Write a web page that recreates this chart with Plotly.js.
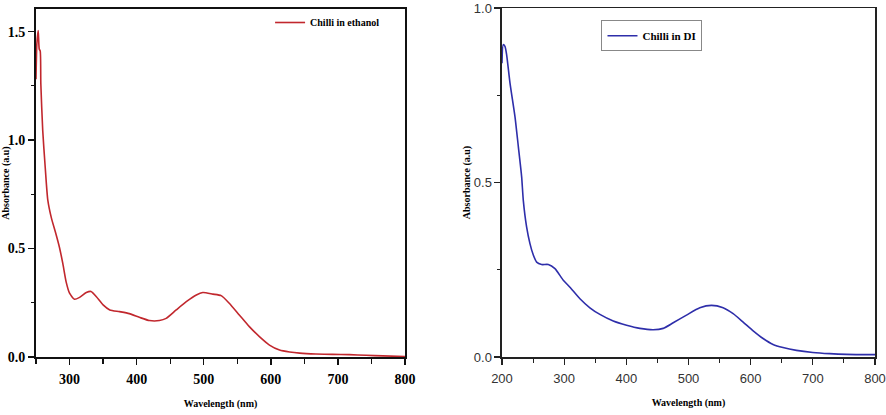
<!DOCTYPE html>
<html>
<head>
<meta charset="utf-8">
<script src="https://cdn.plot.ly/plotly-3.0.1.min.js"></script>
<style>html,body{margin:0;padding:0;background:#fff;}#chart{width:886px;height:415px;}</style>
</head>
<body>
<div id="chart"></div>
<script>
// Chilli in ethanol
const wlEthanol = [250, 251.3, 253.3, 254.8, 256.3, 257.2, 260, 263.7, 267.6, 273, 279, 285, 290, 295, 300, 307.4, 315, 325, 332, 340, 350, 360, 374.5, 389, 404, 419, 434, 444, 459, 474, 489, 498.6, 513.5, 526, 538, 553, 568, 583, 598, 613, 628, 643, 667, 692, 717, 742, 767, 800];
const absEthanol = [1.28, 1.444, 1.505, 1.42, 1.41, 1.26, 1.045, 0.876, 0.723, 0.64, 0.575, 0.505, 0.43, 0.345, 0.294, 0.266, 0.275, 0.297, 0.302, 0.278, 0.24, 0.217, 0.209, 0.2, 0.183, 0.168, 0.168, 0.178, 0.217, 0.255, 0.286, 0.297, 0.29, 0.283, 0.248, 0.194, 0.14, 0.094, 0.055, 0.032, 0.023, 0.018, 0.014, 0.012, 0.011, 0.008, 0.005, 0.002];
// Chilli in DI
const wlDI = [200, 202, 204.8, 207.5, 212.9, 220.9, 226.3, 231.6, 234.3, 239.6, 245, 250.4, 255.7, 263.7, 274.5, 285.2, 298.6, 309.3, 325.4, 341.4, 357.5, 379, 400.4, 421.8, 443.2, 459.3, 475.4, 496.8, 518.2, 537, 555.7, 571.8, 587.9, 604, 620, 636, 652, 673.6, 700, 727, 754, 800];
const absDI = [0.842, 0.895, 0.89, 0.866, 0.785, 0.689, 0.603, 0.517, 0.449, 0.373, 0.325, 0.292, 0.272, 0.265, 0.265, 0.253, 0.22, 0.2, 0.167, 0.141, 0.122, 0.103, 0.091, 0.082, 0.078, 0.082, 0.098, 0.12, 0.141, 0.148, 0.141, 0.124, 0.1, 0.075, 0.053, 0.036, 0.027, 0.019, 0.013, 0.0096, 0.0076, 0.0067];

const seriesNames = ['Chilli in ethanol', 'Chilli in DI'];
const xTitle = 'Wavelength (nm)';
const yTitle = 'Absorbance (a.u)';

const serifBold = {family: 'Liberation Serif', weight: 'bold', color: '#000'};
const titleFont = Object.assign({}, serifBold, {size: 10});

const traces = [
  {x: wlEthanol, y: absEthanol, type: 'scatter', mode: 'lines', name: seriesNames[0],
   line: {color: '#c1272d', width: 1.6, shape: 'spline', smoothing: 0.6}, xaxis: 'x', yaxis: 'y', legend: 'legend'},
  {x: wlDI, y: absDI, type: 'scatter', mode: 'lines', name: seriesNames[1],
   line: {color: '#2e2eaa', width: 1.6, shape: 'spline', smoothing: 0.6}, xaxis: 'x2', yaxis: 'y2', legend: 'legend2'}
];

const layout = {
  width: 886, height: 415,
  margin: {l: 36, r: 11, t: 8, b: 58},
  paper_bgcolor: '#fff', plot_bgcolor: '#fff',
  showlegend: true,
  xaxis: {
    domain: [0, 0.4398], range: [250, 800], dtick: 100, tick0: 0,
    showgrid: false, zeroline: false, showline: true, mirror: true, linecolor: '#111', linewidth: 2,
    ticks: 'outside', ticklen: 6, tickwidth: 1.5, tickcolor: '#111',
    minor: {dtick: 50, tick0: 0, ticks: 'outside', ticklen: 5, tickwidth: 1.2, tickcolor: '#111', showgrid: false},
    tickfont: Object.assign({}, serifBold, {size: 14}), ticklabelstandoff: 2,
    title: {text: xTitle, font: titleFont, standoff: 14}
  },
  yaxis: {
    domain: [0, 0.997], range: [0, 1.604], dtick: 0.5, tick0: 0, tickformat: '.1f',
    showgrid: false, zeroline: false, showline: true, mirror: true, linecolor: '#111', linewidth: 2,
    ticks: 'outside', ticklen: 6, tickwidth: 1.5, tickcolor: '#111',
    minor: {dtick: 0.25, tick0: 0, ticks: 'outside', ticklen: 3, tickwidth: 1.2, tickcolor: '#111', showgrid: false},
    tickfont: Object.assign({}, serifBold, {size: 14}),
    title: {text: yTitle, font: titleFont, standoff: 3}
  },
  xaxis2: {
    domain: [0.5554, 1], range: [200, 800], dtick: 100, tick0: 0, anchor: 'y2',
    showgrid: false, zeroline: false, showline: true, mirror: true, linecolor: '#222', linewidth: 1.5,
    ticks: 'outside', ticklen: 6, tickwidth: 1.3, tickcolor: '#222',
    minor: {dtick: 50, tick0: 0, ticks: 'outside', ticklen: 4, tickwidth: 1, tickcolor: '#222', showgrid: false},
    tickfont: {family: 'Liberation Sans', size: 13, color: '#333'}, ticklabelstandoff: 3,
    title: {text: xTitle, font: titleFont, standoff: 14}
  },
  yaxis2: {
    domain: [0, 1], range: [0, 1.0], dtick: 0.5, tick0: 0, tickformat: '.1f', anchor: 'x2',
    showgrid: false, zeroline: false, showline: true, mirror: true, linecolor: '#222', linewidth: 1.5,
    ticks: 'outside', ticklen: 6, tickwidth: 1.3, tickcolor: '#222',
    minor: {dtick: 0.25, tick0: 0, ticks: 'outside', ticklen: 3, tickwidth: 1, tickcolor: '#222', showgrid: false},
    tickfont: {family: 'Liberation Sans', size: 13, color: '#333'},
    title: {text: yTitle, font: titleFont, standoff: 1}
  },
  legend: {
    x: 0.279, y: 1.0, xanchor: 'left', yanchor: 'top',
    bgcolor: 'rgba(0,0,0,0)', borderwidth: 0,
    font: Object.assign({}, serifBold, {size: 10})
  },
  legend2: {
    x: 0.674, y: 0.965, xanchor: 'left', yanchor: 'top',
    bgcolor: '#fff', bordercolor: '#888', borderwidth: 1,
    font: Object.assign({}, serifBold, {size: 11})
  }
};

Plotly.newPlot('chart', traces, layout, {staticPlot: true, displayModeBar: false});
</script>
</body>
</html>
